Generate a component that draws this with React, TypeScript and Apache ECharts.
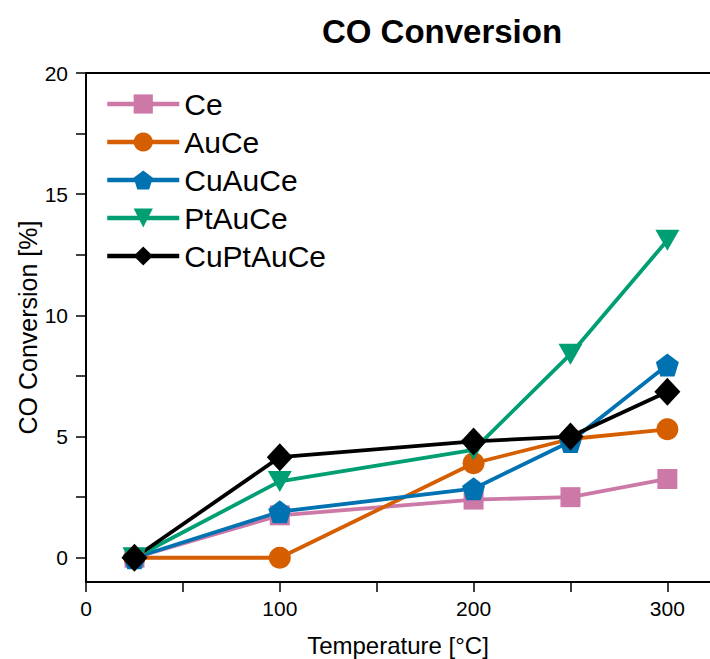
import React, { useEffect, useRef } from "react";
import * as echarts from "echarts";

const temperatures = [25, 100, 200, 250, 300];
const ceValues = [0, 1.75, 2.4, 2.5, 3.25];
const auCeValues = [0, 0, 3.9, 4.9, 5.3];
const cuAuCeValues = [0, 1.9, 2.85, 4.8, 7.95];
const ptAuCeValues = [0, 3.15, 4.45, 8.4, 13.1];
const cuPtAuCeValues = [0, 4.15, 4.8, 5.0, 6.85];

const xTickValues = [0, 50, 100, 150, 200, 250, 300];
const xLabelValues = [0, 100, 200, 300];
const yTickValues = [0, 2.5, 5, 7.5, 10, 12.5, 15, 17.5, 20];
const yLabelValues = [0, 5, 10, 15, 20];

const FONT = "Liberation Sans, Arial, sans-serif";
const PENTAGON = "path://M0,-10 L9.51,-3.09 L5.88,8.09 L-5.88,8.09 L-9.51,-3.09 Z";

function pairs(vals: number[]) {
  return temperatures.map((t, i) => [t, vals[i]]);
}

export default function App() {
  const ref = useRef<HTMLDivElement>(null);
  useEffect(() => {
    if (!ref.current) return;
    const chart = echarts.init(ref.current, undefined, { renderer: "svg" });
    const mk = (name: string, vals: number[], color: string, symbol: string, size: any, rotate = 0) => ({
      name,
      type: "line",
      data: pairs(vals),
      symbol,
      symbolSize: size,
      symbolRotate: rotate,
      showAllSymbol: true,
      lineStyle: { color, width: 3.8 },
      itemStyle: { color, borderWidth: 0 },
      emphasis: { disabled: true },
    });
    chart.setOption({
      animation: false,
      title: {
        text: "CO Conversion",
        left: 437,
        top: 10,
        textAlign: "center",
        textStyle: { fontFamily: FONT, fontSize: 33, fontWeight: "bold", color: "#000" },
      },
      legend: {
        orient: "vertical",
        left: 100,
        top: 84,
        itemWidth: 72,
        itemHeight: 24,
        itemGap: 8,
        lineStyle: { width: 4.5 },
        textStyle: { fontFamily: FONT, fontSize: 30, color: "#000" },
        data: ["Ce", "AuCe", "CuAuCe", "PtAuCe", "CuPtAuCe"],
      },
      grid: { left: 86, top: 73, right: 0, bottom: 659 - 582, outerBoundsMode: "none", containLabel: false },
      xAxis: {
        type: "value",
        min: 0,
        max: 322,
        name: "Temperature [°C]",
        nameLocation: "middle",
        nameGap: 51,
        nameMoveOverlap: false,
        nameTextStyle: { fontFamily: FONT, fontSize: 24, color: "#000" },
        axisLine: { show: true, onZero: false, lineStyle: { color: "#000", width: 2 } },
        axisTick: { show: true, inside: false, length: 10, customValues: xTickValues, lineStyle: { color: "#000", width: 1.5 } },
        axisLabel: { customValues: xLabelValues, margin: 16, fontFamily: FONT, fontSize: 21, color: "#000" },
        splitLine: { show: false },
      },
      yAxis: {
        type: "value",
        min: -1,
        max: 20,
        name: "CO Conversion [%]",
        nameLocation: "middle",
        nameGap: 46,
        nameMoveOverlap: false,
        nameTextStyle: { fontFamily: FONT, fontSize: 25, color: "#000" },
        axisLine: { show: true, onZero: false, lineStyle: { color: "#000", width: 2 } },
        axisTick: { show: true, inside: false, length: 10, customValues: yTickValues, lineStyle: { color: "#000", width: 1.5 } },
        axisLabel: { customValues: yLabelValues, margin: 18, fontFamily: FONT, fontSize: 21, color: "#000" },
        splitLine: { show: false },
      },
      graphic: [
        { type: "line", shape: { x1: 86, y1: 73, x2: 710, y2: 73 }, style: { stroke: "#000", lineWidth: 2 } },
      ],
      series: [
        mk("Ce", ceValues, "#CC79A7", "rect", 20),
        mk("AuCe", auCeValues, "#D55E00", "circle", 22),
        mk("CuAuCe", cuAuCeValues, "#0072B2", PENTAGON, 23),
        mk("PtAuCe", ptAuCeValues, "#009E73", "triangle", [24, 21], 180),
        mk("CuPtAuCe", cuPtAuCeValues, "#000000", "diamond", [26, 28]),
      ],
    });
    return () => chart.dispose();
  }, []);
  return <div ref={ref} style={{ position: "absolute", left: 0, top: 0, width: 710, height: 659 }} />;
}
